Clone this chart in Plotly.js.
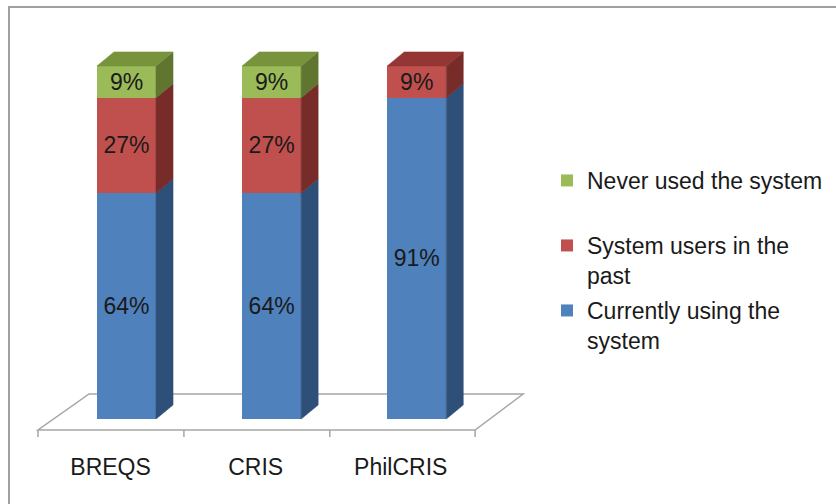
<!DOCTYPE html>
<html><head><meta charset="utf-8">
<script src="https://cdn.plot.ly/plotly-3.0.1.min.js"></script>
<style>
html,body{margin:0;padding:0;background:#fff;overflow:hidden}
#chart{width:836px;height:504px}
#frame{position:absolute;left:8px;top:6px;width:828px;height:498px;box-sizing:border-box;border-left:2px solid #a0a0a0;border-top:2px solid #a0a0a0;pointer-events:none}
</style></head><body>
<div id="chart"></div><div id="frame"></div>
<script>
// ---- data ----
const categories = ['BREQS', 'CRIS', 'PhilCRIS'];
const currentlyUsing = [64, 64, 91];
const pastUsers = [27, 27, 9];
const neverUsed = [9, 9, 0];
const seriesNames = ['Currently using the<br>system', 'System users in the<br>past', 'Never used the system'];

// ---- geometry / style ----
const barWidth = 0.4066, dX = 0.117, dY = 3.97;
const labelShift = -0.11;
const font = 'Liberation Sans, Arial, sans-serif';
const textColor = '#1a1a1a';
const fontSize = 23;

const series = [
  {name: seriesNames[0], values: currentlyUsing, front: '#4F81BD', side: '#2E4F78', top: '#3C6497', legend: 'legend3'},
  {name: seriesNames[1], values: pastUsers, front: '#C0504D', side: '#772C2A', top: '#943634', legend: 'legend2'},
  {name: seriesNames[2], values: neverUsed, front: '#9BBB59', side: '#5F7530', top: '#77933C', legend: 'legend'}
];
const xs = categories.map((_, i) => i);

const traces = [];
series.forEach(s => {
  traces.push({
    type: 'bar', x: xs, y: s.values, name: s.name, legend: s.legend,
    width: barWidth, marker: {color: s.front, line: {width: 0}},
    text: s.values.map(v => v > 0 ? v + '%' : ''),
    textposition: 'inside', insidetextanchor: 'middle', textangle: 0, constraintext: 'none',
    textfont: {family: font, size: fontSize, color: textColor},
    hoverinfo: 'skip'
  });
});

// side faces of every segment
const base = xs.map(() => 0);
series.forEach(s => {
  s.values.forEach((v, i) => {
    if (v <= 0) return;
    const b = base[i], t = b + v, xr = i + barWidth / 2;
    traces.push({
      type: 'scatter', mode: 'lines', x: [xr, xr + dX, xr + dX, xr, xr], y: [b, b + dY, t + dY, t, b],
      fill: 'toself', fillcolor: s.side, line: {width: 0.6, color: s.side},
      showlegend: false, hoverinfo: 'skip'
    });
    base[i] = t;
  });
});
// top faces of the topmost segment
xs.forEach(i => {
  let topS = null;
  series.forEach(s => { if (s.values[i] > 0) topS = s; });
  const T = base[i], xl = i - barWidth / 2, xr = i + barWidth / 2;
  traces.push({
    type: 'scatter', mode: 'lines', x: [xl, xl + dX, xr + dX, xr, xl], y: [T, T + dY, T + dY, T, T],
    fill: 'toself', fillcolor: topS.top, line: {width: 0.6, color: topS.top},
    showlegend: false, hoverinfo: 'skip'
  });
});

// floor (axis decoration)
const fFrontY = -3.116, fBackY = 7.08, fL = -0.610, fR = 2.402, fBL = -0.258, fBR = 2.733, tickBottom = -5.1;
const shapes = [{
  type: 'path', layer: 'below', xref: 'x', yref: 'y',
  path: `M${fL},${fFrontY} L${fR},${fFrontY} L${fBR},${fBackY} L${fBL},${fBackY} Z`,
  line: {color: '#a6a6a6', width: 1.5}, fillcolor: 'rgba(0,0,0,0)'
}];
[fL, fL + 1.0055, fL + 2.011, fR].forEach(x => shapes.push({
  type: 'line', layer: 'below', xref: 'x', yref: 'y', x0: x, x1: x, y0: fFrontY, y1: tickBottom,
  line: {color: '#a6a6a6', width: 1.5}
}));

const legendBase = {
  xref: 'container', yref: 'container', xanchor: 'left', yanchor: 'top', valign: 'top',
  bgcolor: 'rgba(0,0,0,0)', borderwidth: 0,
  font: {family: font, size: fontSize, color: textColor}
};

const layout = {
  width: 836, height: 504,
  margin: {l: 20, r: 256, t: 20, b: 64, autoexpand: false},
  paper_bgcolor: '#fff', plot_bgcolor: 'rgba(0,0,0,0)',
  barmode: 'stack', bargap: 0,
  showlegend: true,
  legend: Object.assign({}, legendBase, {x: 547 / 836, y: 1 - 159 / 504}),
  legend2: Object.assign({}, legendBase, {x: 547 / 836, y: 1 - 224 / 504}),
  legend3: Object.assign({}, legendBase, {x: 547 / 836, y: 1 - 289 / 504}),
  xaxis: {
    range: [-0.734, 3.125], showgrid: false, zeroline: false, showline: false,
    tickvals: xs.map(i => i + labelShift), ticktext: categories, ticks: '',
    tickfont: {family: font, size: fontSize, color: textColor}, ticklabelstandoff: 11, fixedrange: true,
    automargin: false
  },
  yaxis: {range: [-5.95, 113.03], visible: false, fixedrange: true},
  shapes: shapes
};

Plotly.newPlot('chart', traces, layout, {staticPlot: true});
</script>
</body></html>
